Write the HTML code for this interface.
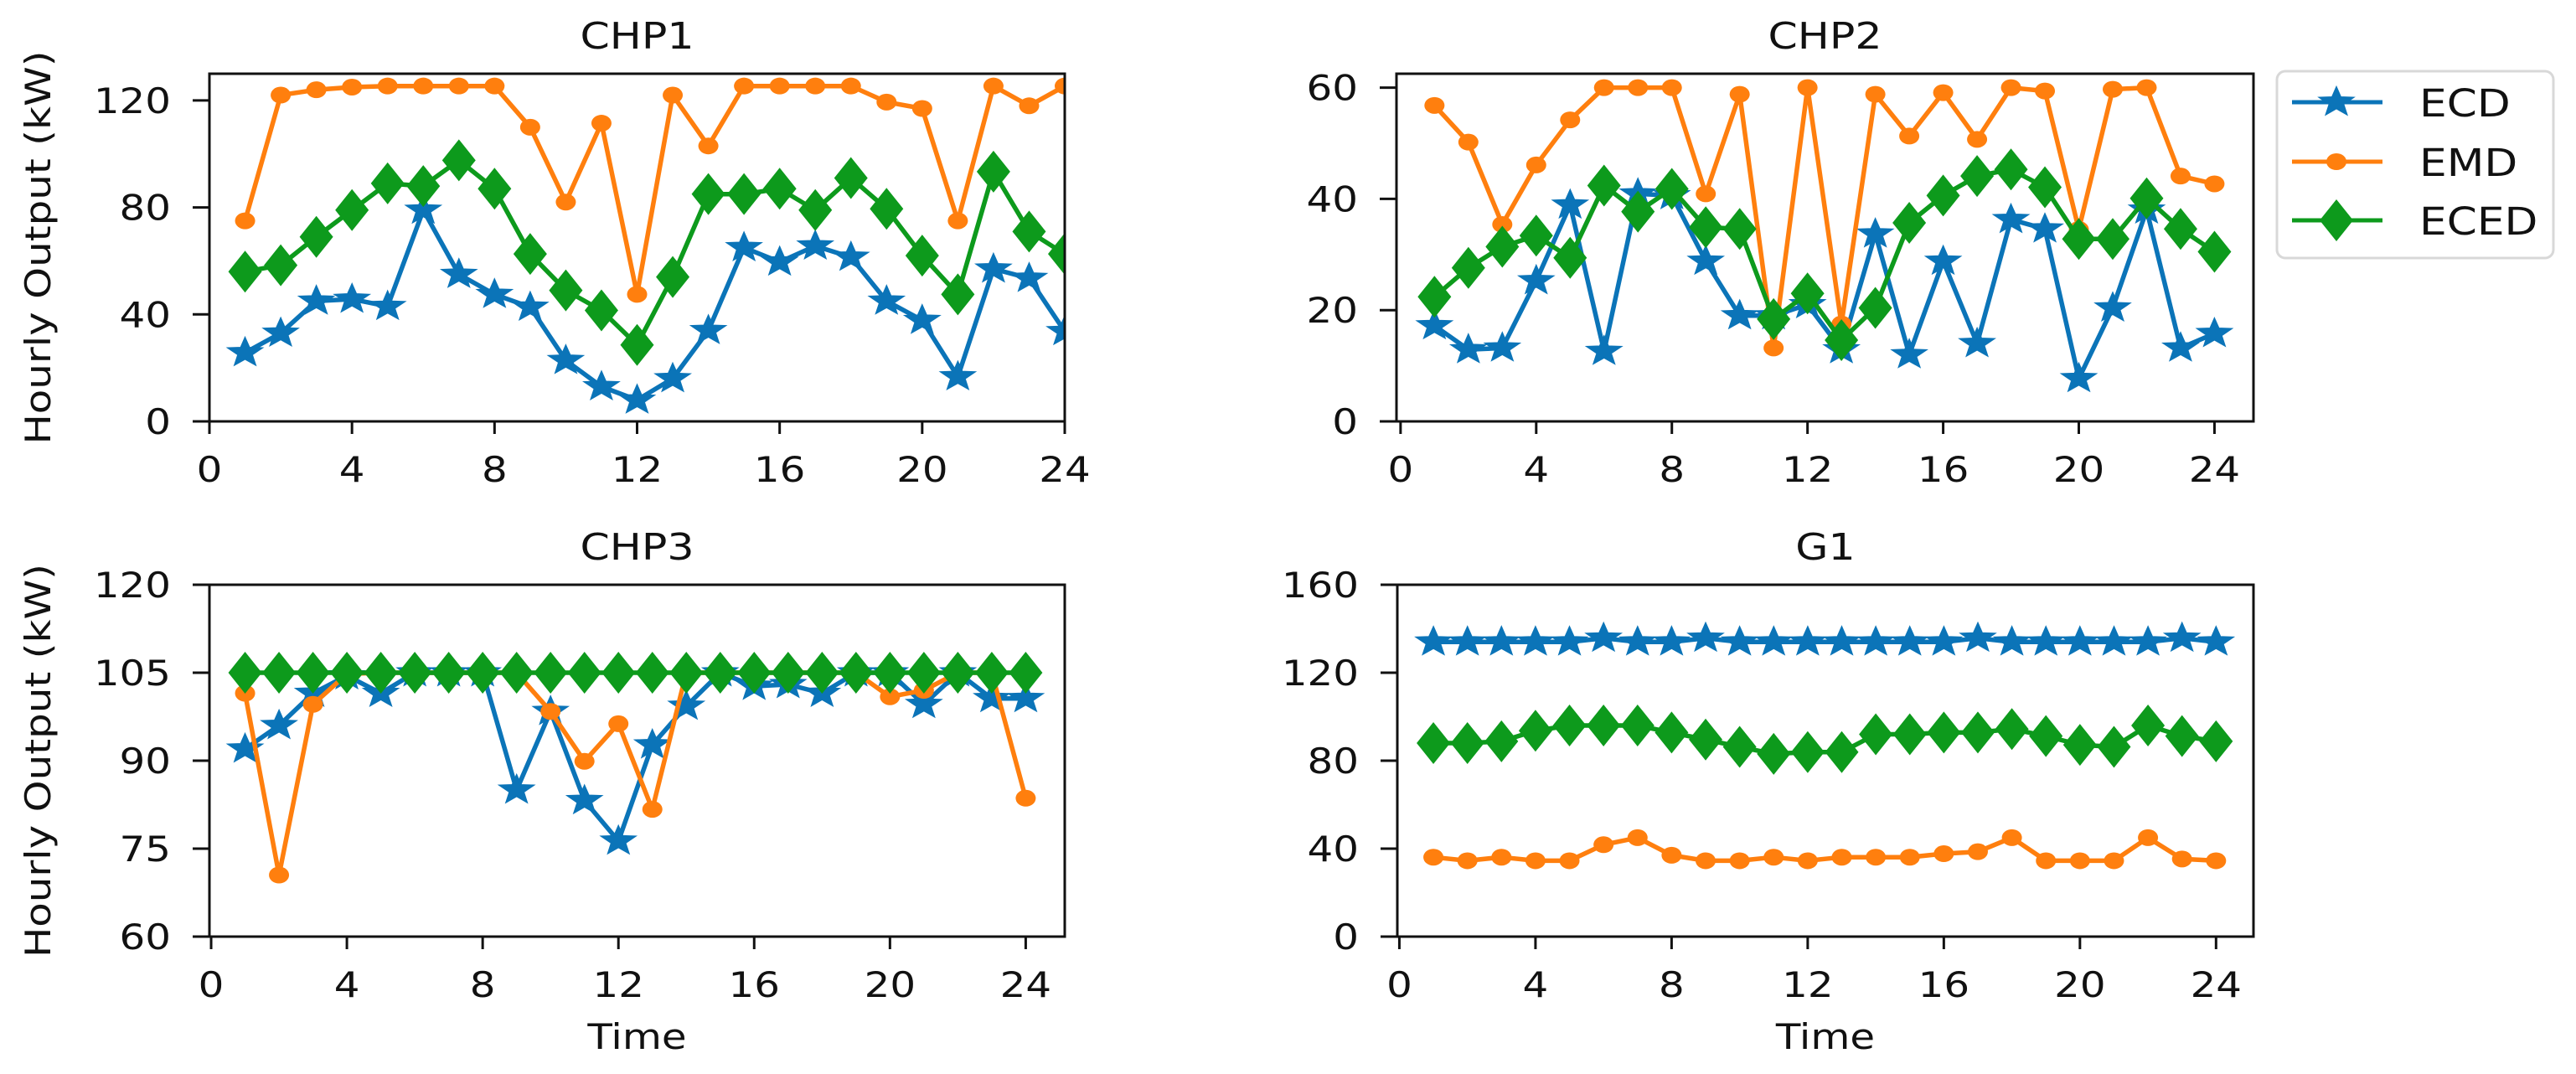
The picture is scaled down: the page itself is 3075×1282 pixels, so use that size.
<!DOCTYPE html>
<html><head><meta charset="utf-8"><style>
html,body{margin:0;padding:0;background:#fff;}
svg{display:block;}
text{font-family:"DejaVu Sans","Liberation Sans",sans-serif;fill:#111;}
</style></head><body>
<svg id="chart" width="3075" height="1282" viewBox="0 0 3075 1282" xmlns="http://www.w3.org/2000/svg"></svg>
<script>
const hours = [1,2,3,4,5,6,7,8,9,10,11,12,13,14,15,16,17,18,19,20,21,22,23,24];
const seriesNames = ["ECD","EMD","ECED"];
const chp1ECD = [25.7,33,45,45.7,43,79,55,47.5,42.7,22.8,13,8,16,34,65,59.6,65.6,61.4,45,37.8,16.7,57,53.5,33.6];
const chp1EMD = [75,122,124,125,125.4,125.4,125.4,125.4,110,82,111.5,47.5,122,103,125.4,125.4,125.4,125.4,119.4,117,75,125.4,118,125.4];
const chp1ECED = [56,58.4,69,79,89,88,97.6,87,62.6,49,41.5,28.6,54,85,85,87,79,91,79.5,62,47.5,93.4,71,62.6];
const chp2ECD = [17.2,12.9,13.2,25.3,38.9,12.6,40.9,40.6,28.8,19,19,21,12.9,33.7,12,28.8,14,36.3,34.6,7.7,20.4,38,13.2,15.8];
const chp2EMD = [56.8,50.2,35.4,46.1,54.2,60,60,60,40.9,58.8,13.2,60,17.5,58.8,51.3,59.1,50.7,60,59.4,34.5,59.7,60,44.1,42.7];
const chp2ECED = [22.4,27.6,31.4,33.4,29.4,42.4,37.7,41.8,34.9,34.6,18.4,23,14.6,20.4,35.7,40.6,44.1,45.3,42.1,32.8,32.8,40.1,34.6,30.5];
const chp3ECD = [92,96,101.5,104.5,101.5,105,105,105,85,98.4,83.2,76.3,92.7,99.3,105,102.7,103,101.5,105,105,99.6,105,100.6,100.6];
const chp3EMD = [101.5,70.5,99.6,104.8,105,105,105,105,105,98.4,89.9,96.3,81.7,105,105,105,105,105,105,100.9,102,105,105,83.6];
const chp3ECED = [105,105,105,105,105,105,105,105,105,105,105,105,105,105,105,105,105,105,105,105,105,105,105,105];
const g1ECD = [134,134,134,134,134,135.7,134,134,135.7,134,134,134,134,134,134,134,135.7,134,134,134,134,134,135.7,134];
const g1EMD = [36.1,34.5,36.1,34.5,34.5,41.8,45,37,34.5,34.5,36.1,34.5,36.1,36.1,36.1,37.7,38.6,45,34.5,34.5,34.5,45,35.3,34.5];
const g1ECED = [88,88,88.8,93.6,96,96,96,92.8,89.6,86.3,83.1,83.9,83.9,92,92,92.8,92.8,94.4,91.2,87.2,86.3,96,91.2,88.8];
const xTicks = [0,4,8,12,16,20,24];
const chp1YTicks = [0,40,80,120];
const chp2YTicks = [0,20,40,60];
const chp3YTicks = [60,75,90,105,120];
const g1YTicks = [0,40,80,120,160];

const NS = "http://www.w3.org/2000/svg";
const svg = document.getElementById("chart");
const COLORS = ["#0b74b8","#ff7f0e","#0d9a1c"];
const SX = 1.15;

function mk(tag, attrs, parent){
  const e = document.createElementNS(NS, tag);
  for (const k in attrs) e.setAttribute(k, attrs[k]);
  (parent||svg).appendChild(e);
  return e;
}
function txt(str, x, y, size, anchor, parent, rot){
  const t = document.createElementNS(NS, "text");
  t.textContent = str;
  t.setAttribute("font-size", size);
  t.setAttribute("text-anchor", anchor);
  t.setAttribute("transform", "translate(" + x + "," + y + ")" + (rot ? " rotate(" + rot + ")" : "") + " scale(" + SX + ",1)");
  (parent||svg).appendChild(t);
  return t;
}
function marker(kind, cx, cy, color, parent){
  let m;
  if (kind === 0){
    const pts = [];
    for (let i = 0; i < 10; i++){
      const r = (i % 2 === 0) ? 1 : 0.42;
      const a = -Math.PI/2 + i*Math.PI/5;
      pts.push((cx + r*20*Math.cos(a)).toFixed(1) + "," + (cy + r*17*Math.sin(a)).toFixed(1));
    }
    m = mk("polygon", {points: pts.join(" "), fill: color, stroke: color, "stroke-width": 2.5}, parent);
  } else if (kind === 1){
    m = mk("ellipse", {cx: cx, cy: cy, rx: 12, ry: 10, fill: color}, parent);
  } else {
    m = mk("polygon", {points: cx + "," + (cy-25) + " " + (cx+20) + "," + cy + " " + cx + "," + (cy+25) + " " + (cx-20) + "," + cy, fill: color}, parent);
  }
  return m;
}

const panels = [
  {name:"chp1", title:"CHP1", L:250, R:1271, T:88, B:503, xmin:0, xmax:24, ymin:0, ymax:130, yticks:chp1YTicks, series:[chp1ECD,chp1EMD,chp1ECED], ylabel:true, xlabel:false},
  {name:"chp2", title:"CHP2", L:1667, R:2690, T:88, B:503, xmin:-0.12, xmax:25.15, ymin:0, ymax:62.5, yticks:chp2YTicks, series:[chp2ECD,chp2EMD,chp2ECED], ylabel:false, xlabel:false},
  {name:"chp3", title:"CHP3", L:250, R:1271, T:698, B:1118, xmin:-0.05, xmax:25.15, ymin:60, ymax:120, yticks:chp3YTicks, series:[chp3ECD,chp3EMD,chp3ECED], ylabel:true, xlabel:true},
  {name:"g1", title:"G1", L:1668, R:2690, T:698, B:1118, xmin:-0.06, xmax:25.1, ymin:0, ymax:160, yticks:g1YTicks, series:[g1ECD,g1EMD,g1ECED], ylabel:false, xlabel:true}
];

panels.forEach(function(p){
  const g = mk("g", {});
  
  
  const xs = function(v){ return p.L + (v - p.xmin)/(p.xmax - p.xmin)*(p.R - p.L); };
  const ys = function(v){ return p.B - (v - p.ymin)/(p.ymax - p.ymin)*(p.B - p.T); };
  const clipId = "clip-" + p.name;
  const defs = mk("defs", {}, g);
  const cp = mk("clipPath", {id: clipId}, defs);
  mk("rect", {x: p.L, y: p.T, width: p.R - p.L, height: p.B - p.T}, cp);

  const t = txt(p.title, (p.L + p.R)/2, p.T - 30, 44, "middle", g);
  
  

  const sg = mk("g", {"clip-path": "url(#" + clipId + ")"}, g);
  p.series.forEach(function(vals, si){
    const pts = vals.map(function(v, i){ return xs(hours[i]).toFixed(1) + "," + ys(v).toFixed(1); }).join(" ");
    const line = mk("polyline", {points: pts, fill: "none", stroke: COLORS[si], "stroke-width": 5.5, "stroke-linejoin": "round"}, sg);
    
    
    vals.forEach(function(v, i){
      const m = marker(si, xs(hours[i]), ys(v), COLORS[si], sg);
      
      
    });
  });

  const frame = mk("rect", {x: p.L, y: p.T, width: p.R - p.L, height: p.B - p.T, fill: "none", stroke: "#111", "stroke-width": 3}, g);
  
  

  xTicks.forEach(function(v){
    const x = xs(v);
    const tk = mk("line", {x1: x, x2: x, y1: p.B, y2: p.B + 15, stroke: "#111", "stroke-width": 3}, g);
    
    
    const lb = txt(String(v), x, p.B + 72, 42, "middle", g);
    
    
  });
  p.yticks.forEach(function(v){
    const y = ys(v);
    const tk = mk("line", {x1: p.L - 20, x2: p.L, y1: y, y2: y, stroke: "#111", "stroke-width": 3}, g);
    
    
    const lb = txt(String(v), p.L - 46, y + 15, 42, "end", g);
    
    
  });
  if (p.ylabel){
    const yl = txt("Hourly Output (kW)", 60, (p.T + p.B)/2, 42, "middle", g, -90);
    
    
  }
  if (p.xlabel){
    const xl = txt("Time", (p.L + p.R)/2, 1252, 42, "middle", g);
    
    
  }
});

const lg = mk("g", {});


mk("rect", {x: 2718, y: 85, width: 330, height: 223, rx: 10, fill: "#fff", stroke: "#d8d8d8", "stroke-width": 3}, lg);
const legendY = [122, 193, 263];
seriesNames.forEach(function(n, i){
  const eg = mk("g", {}, lg);
  
  
  mk("line", {x1: 2736, x2: 2844, y1: legendY[i], y2: legendY[i], stroke: COLORS[i], "stroke-width": 5}, eg);
  marker(i, 2789, legendY[i], COLORS[i], eg);
  txt(n, 2888, legendY[i] + 17, 45, "start", eg);
});
</script>
</body></html>
